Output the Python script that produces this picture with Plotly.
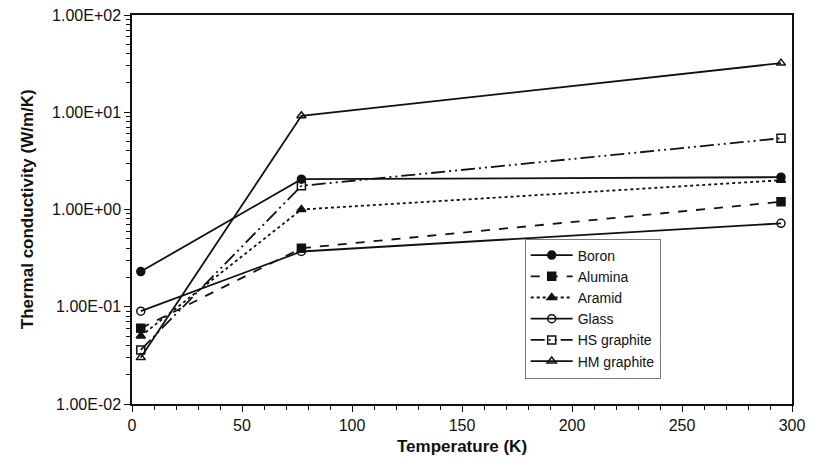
import plotly.graph_objects as go

# temperatures (K)
temps = [4, 77, 295]

boron = [0.23, 2.05, 2.15]
alumina = [0.06, 0.40, 1.2]
aramid = [0.05, 1.0, 2.0]
glass = [0.09, 0.37, 0.72]
hs_graphite = [0.036, 1.75, 5.4]
hm_graphite = [0.03, 9.2, 32]

y_tickvals = [0.01, 0.1, 1, 10, 100]
y_ticktext = ["1.00E-02", "1.00E-01", "1.00E+00", "1.00E+01", "1.00E+02"]
x_tickvals = [0, 50, 100, 150, 200, 250, 300]

series = [
    ("Boron", boron, "solid", "circle"),
    ("Alumina", alumina, "dash", "square"),
    ("Aramid", aramid, "dot", "triangle-up"),
    ("Glass", glass, "solid", "circle-open"),
    ("HS graphite", hs_graphite, "14px,4px,2px,4px,2px,4px", "square-open"),
    ("HM graphite", hm_graphite, "solid", "triangle-up-open"),
]

fig = go.Figure()
for name, vals, dash, sym in series:
    fig.add_trace(go.Scatter(
        x=temps, y=vals, name=name, mode="lines+markers",
        line=dict(color="#111", width=1.8, dash=dash),
        marker=dict(symbol=sym, size=8, color="#111",
                    line=dict(color="#111", width=1.5)),
    ))

minor_y = [m * 10 ** e for e in range(-2, 2) for m in range(2, 10)]

fig.update_layout(
    width=815, height=459,
    margin=dict(l=132, r=23, t=15, b=55),
    paper_bgcolor="white", plot_bgcolor="white",
    font=dict(family="Liberation Sans, Arial", size=16, color="#111"),
    legend=dict(
        x=0.595, y=0.2455, xanchor="left", yanchor="middle",
        bgcolor="white", bordercolor="#777", borderwidth=1,
        font=dict(size=14), tracegroupgap=0, itemwidth=42,
    ),
)
# axis titles as annotations so the plot area stays fixed
fig.add_annotation(text="<b>Temperature (K)</b>", xref="paper", yref="paper",
                   x=0.5, y=-0.108, yanchor="middle", showarrow=False,
                   font=dict(size=17))
fig.add_annotation(text="<b>Thermal conductivity (W/m/K)</b>", xref="paper", yref="paper",
                   x=-0.158, y=0.5, textangle=-90, xanchor="center", showarrow=False,
                   font=dict(size=17))

fig.update_xaxes(
    range=[0, 300], tickvals=x_tickvals, automargin=False, ticklabeloverflow="allow",
    showline=True, linecolor="#111", linewidth=1.5, mirror=True,
    ticks="outside", ticklen=6, tickcolor="#111", showgrid=False, zeroline=False,
    minor=dict(ticks="outside", ticklen=4, dtick=10, tickcolor="#111"),
)
fig.update_yaxes(
    type="log", range=[-2, 2], tickvals=y_tickvals, ticktext=y_ticktext,
    automargin=False, ticklabeloverflow="allow",
    showline=True, linecolor="#111", linewidth=1.5, mirror=True,
    ticks="outside", ticklen=6, tickcolor="#111", showgrid=False, zeroline=False,
    minor=dict(ticks="outside", ticklen=4, tickvals=minor_y, tickcolor="#111"),
)

# drop the default 8px body margin so the figure sits at the page corner
fig.write_html("out.html", config={"displayModeBar": False},
               post_script="document.body.style.margin='0';")
